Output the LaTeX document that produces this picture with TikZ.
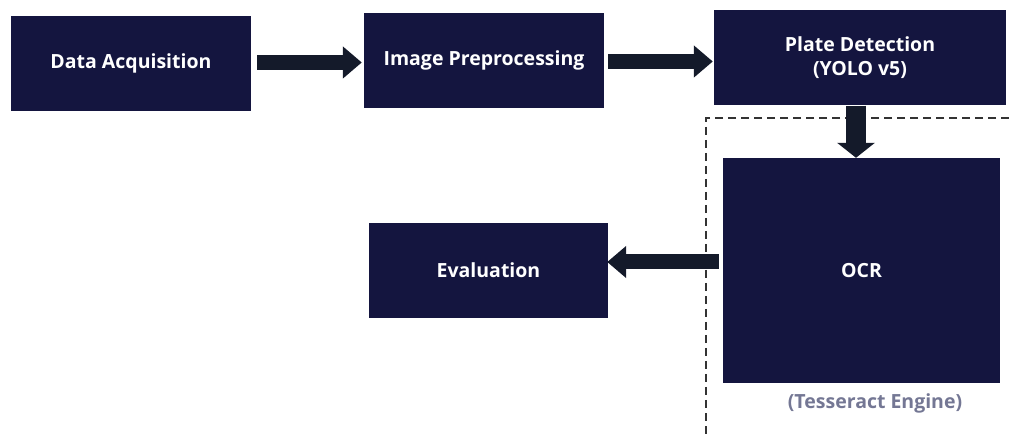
\documentclass[tikz,border=0pt]{standalone}
\usepackage{fontspec}
\setmainfont{Open Sans}
\usetikzlibrary{arrows.meta,calc}
\definecolor{navy}{HTML}{14153F}
\definecolor{arrowc}{HTML}{141A2A}
\definecolor{tgray}{HTML}{747794}
\definecolor{dashc}{HTML}{333333}
\tikzset{
  box/.style={fill=navy, draw=none, text=white, font=\fontsize{19.5}{24}\selectfont\bfseries, align=center, inner sep=0pt},
  arr/.style={draw=arrowc, line width=15pt, -{Triangle[width=31pt,length=19pt]}},
  dashline/.style={draw=dashc, line width=1.8pt, dash pattern=on 8pt off 5pt}
}
\begin{document}
\begin{tikzpicture}[x=1pt,y=-1pt]
\useasboundingbox (0,0) rectangle (1009,435);
\node[box, minimum width=240pt, minimum height=95pt] (da) at (131,63.5) {Data Acquisition};
\node[box, minimum width=240pt, minimum height=95pt] (ip) at (484,60.5) {Image Preprocessing};
\node[box, minimum width=292pt, minimum height=95pt] (pd) at (860,58) {Plate Detection\\(YOLO v5)};
\node[box, minimum width=277pt, minimum height=225pt] (ocr) at (861.5,270.5) {OCR};
\node[font=\fontsize{19.5}{24}\selectfont\bfseries, text=tgray, inner sep=0pt] (tess) at (875,403) {(Tesseract Engine)};
\node[box, minimum width=239pt, minimum height=95pt] (ev) at (488.5,270.5) {Evaluation};
\coordinate (dtl) at (706,118);
\draw[dashline] (1009,118) -- (dtl) -- (706,435);
\draw[arr] ([xshift=6pt,yshift=1pt]da.east) -- ([xshift=-2pt,yshift=1pt]da.east -| ip.west);
\draw[arr] ([xshift=4pt,yshift=-1pt]ip.east) -- ([xshift=-1pt,yshift=-1pt]ip.east -| pd.west);
\draw[arr, line width=20pt, -{Triangle[width=37pt,length=15pt]}] ([xshift=-4pt]pd.south) -- ([xshift=-4pt]pd.south |- ocr.north);
\draw[arr] ([xshift=-4pt,yshift=8.5pt]ocr.west) -- ([xshift=-1pt,yshift=8.5pt]ev.east);
\end{tikzpicture}
\end{document}
